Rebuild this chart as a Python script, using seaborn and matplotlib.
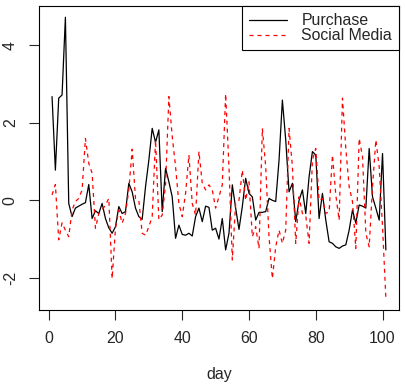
import matplotlib
matplotlib.use("Agg")
from matplotlib import pyplot as plt
import numpy as np
import pandas as pd
import seaborn as sns

# values, day 1..101
purchase = [2.68, 0.78, 2.64, 2.72, 4.73, -0.08, -0.42, -0.2, -0.15, -0.1,
            -0.06, 0.41, -0.47, -0.27, -0.34, -0.08, -0.47, -0.71, -0.85, -0.68,
            -0.16, -0.34, -0.29, 0.44, 0.22, -0.2, -0.42, -0.49, 0.35, 1.04,
            1.86, 1.5, 1.82, -0.29, 0.83, 0.48, 0.09, -0.98, -0.64, -0.88,
            -0.9, -0.85, -0.92, -0.42, -0.2, -0.55, -0.15, -0.18, -0.77, -0.72,
            -1.0, -0.47, -1.28, -0.85, 0.4, -0.2, -0.75, -0.16, 0.57, 0.18,
            0.09, -0.51, -0.31, -0.31, -0.29, 0.05, 0.0, -0.03, 1.04, 2.59,
            1.56, 0.22, 0.44, -0.55, 0.0, 0.27, -0.34, 0.61, 1.26, 1.17,
            -0.47, 0.18, -0.51, -1.07, -1.11, -1.2, -1.24, -1.18, -1.15, -0.77,
            -0.25, -0.59, -0.12, -0.15, -0.2, 1.34, 0.09, -0.2, -0.51, 1.21,
            -1.28]
social = [0.14, 0.41, -1.02, -0.58, -0.77, -0.94, -0.25, -0.03, 0.05, 0.27,
          1.6, 0.96, 0.7, -0.72, -0.34, -0.25, -0.12, 0.05, -2.02, -0.72,
          -0.25, -0.59, -0.34, 0.27, 1.32, 0.05, 0.0, -0.85, -0.9, -0.68,
          -0.42, 1.56, -0.5, -0.38, 0.4, 2.68, 1.65, 0.87, -0.08, -0.42,
          0.18, 1.17, -0.08, -0.38, 1.26, 0.44, 0.27, 0.4, 0.27, -0.2,
          0.09, 0.4, 2.75, 0.87, -1.54, -0.08, 0.0, 0.78, 0.0, 0.48,
          -0.94, -0.68, -1.24, 1.86, 0.87, -0.94, -2.02, -1.2, -0.77, -1.11,
          -0.77, 1.86, 0.87, -1.11, 0.09, -0.34, -0.4, -1.11, 1.04, 1.34,
          0.0, 0.05, -0.34, -0.29, 1.17, 0.14, -0.51, 2.64, 1.34, 0.35,
          -0.03, -1.24, 1.6, 1.13, -0.85, -1.2, 0.35, 1.56, 0.87, -0.68,
          -2.53]
day = np.arange(1, len(purchase) + 1)

df = pd.DataFrame({"day": day, "Purchase": purchase, "Social Media": social})

sns.set_style("ticks")
plt.rcParams["font.family"] = ["Liberation Sans", "DejaVu Sans"]

fig = plt.figure(figsize=(4.06, 3.92), dpi=100)
ax = fig.add_axes([0.0953, 0.2084, 0.888, 0.7763])

sns.lineplot(data=df, x="day", y="Purchase", ax=ax, color="black", lw=0.9,
             label="Purchase")
sns.lineplot(data=df, x="day", y="Social Media", ax=ax, color="red", lw=0.9,
             dashes=False, label="Social Media")
ax.lines[1].set_dashes((3.2, 3.2))

ax.set_xlim(-3, 105)
ax.set_ylim(-2.84, 5.02)
ax.set_xticks([0, 20, 40, 60, 80, 100])
ax.set_yticks([-2, 0, 2, 4])
ax.set_yticklabels(["-2", "0", "2", "4"], rotation=90, va="center")
ax.tick_params(direction="out", length=7, width=0.8, labelsize=11.4, pad=8)
ax.set_xlabel("day", fontsize=11.4, labelpad=15)
ax.set_ylabel("")
for s in ax.spines.values():
    s.set_visible(True)
    s.set_linewidth(0.8)
    s.set_color("black")

leg = ax.legend(loc="upper right", borderaxespad=0, fancybox=False,
                framealpha=1, edgecolor="black", fontsize=11.4,
                handlelength=2.4, labelspacing=0.0, borderpad=0.45,
                handletextpad=0.9)
leg.get_frame().set_linewidth(0.8)

fig.savefig("out.png", dpi=100)
